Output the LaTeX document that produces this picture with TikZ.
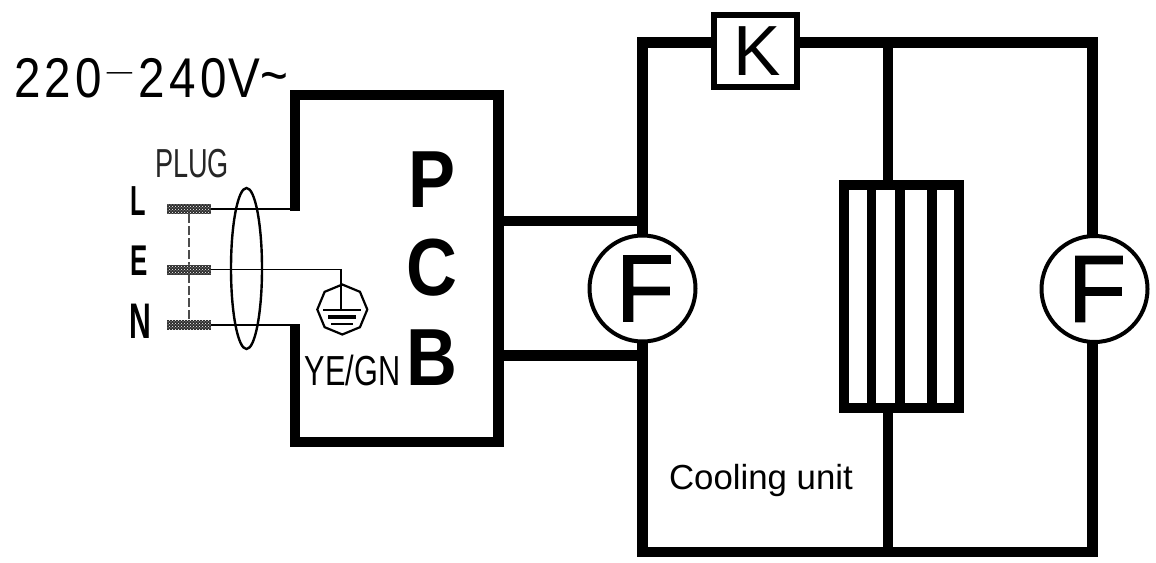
\documentclass[tikz,border=0pt]{standalone}
\usepackage{fontspec}
\setmainfont{Liberation Sans}
\newfontfamily\heavyfont[FakeBold=1.5]{Liberation Sans}
\newfontfamily\spacedfont[LetterSpace=9]{Liberation Sans}
\usetikzlibrary{shapes.geometric,patterns}
\definecolor{pin}{gray}{0.18}
\tikzset{
  thick wire/.style={line width=10.5pt,black,line cap=butt,line join=miter},
  thin wire/.style={line width=1.7pt,black},
  fan/.style={circle,draw=black,line width=4pt,fill=white,minimum size=106pt,inner sep=0pt,font=\heavyfont\fontsize{95}{95}\selectfont},
  relay/.style={rectangle,draw=black,line width=6pt,fill=white,minimum width=83pt,minimum height=72pt,inner sep=0pt,font=\fontsize{71}{71}\selectfont},
  pinbar/.style={rectangle,fill=pin,minimum width=44pt,minimum height=10pt,inner sep=0pt,postaction={pattern=crosshatch dots,pattern color=white!70}},
  pcbtext/.style={inner sep=0pt,xscale=0.87,font=\bfseries\fontsize{81}{81}\selectfont},
  narrow/.style={inner sep=0pt,xscale=0.67,anchor=base},
}
\begin{document}
\begin{tikzpicture}[x=1pt,y=-1pt]
\useasboundingbox[fill=white] (0,0) rectangle (1156,562);
% junction coordinates
\coordinate (tl) at (642.5,42.5);
\coordinate (tm) at (888,42.5);
\coordinate (tr) at (1092.5,42.5);
\coordinate (bl) at (642.5,552);
\coordinate (bm) at (888,552);
\coordinate (br) at (1092.5,552);
\coordinate (jA) at (642.5,221);
\coordinate (jB) at (642.5,355.5);
\coordinate (pA) at (498.5,221);
\coordinate (pB) at (498.5,355.5);
\coordinate (boxU) at (295,210.5);
\coordinate (boxL) at (295,324);
% cooling unit wiring
\draw[thick wire] (tl) -- (tr) -- (br) -- (bl) -- cycle;
\draw[thick wire] (tm) -- (bm);
\draw[thick wire] (pA) -- (jA);
\draw[thick wire] (pB) -- (jB);
% PCB outline
\draw[thick wire] (boxU) -- (295,95) -- (498.5,95) -- (498.5,442) -- (295,442) -- (boxL);
% components
\node[relay] (K) at (755.5,51) {\hspace*{4pt}K};
\node[fan] (F1) at (642.5,288.5) {\hspace*{5pt}F};
\node[fan] (F2) at (1094.5,289) {\hspace*{5pt}F};
\node[rectangle,draw=black,line width=10pt,fill=white,minimum width=115pt,minimum height=223pt,inner sep=0pt] (heat) at (901.5,296.5) {};
\draw[black,line width=9pt] (871.5,185) -- (871.5,408);
\draw[black,line width=10pt] (900,185) -- (900,408);
\draw[black,line width=10pt] (932,185) -- (932,408);
% plug
\node[pinbar] (pL) at (189,209) {};
\node[pinbar] (pE) at (189,269.5) {};
\node[pinbar] (pN) at (189,325) {};
\draw[black!70,line width=1.2pt,dash pattern=on 9pt off 3pt] (pL) -- (pN);
\node[pinbar] at (189,269.5) {};
\draw[thin wire] (pL.east) -- (boxU |- pL.east);
\draw[thin wire] (pN.east) -- (boxL |- pN.east);
\node[ellipse,draw=black,line width=2.4pt,minimum width=31pt,minimum height=161pt,inner sep=0pt] (clamp) at (246.5,268.5) {};
% earth
\node[regular polygon,regular polygon sides=8,shape border rotate=22.5,draw=black,line width=2.2pt,minimum size=50pt,inner sep=0pt] (earth) at (342.3,309.5) {};
\coordinate (gnd) at (340.7,310);
\draw[thin wire] (pE.east) -| (gnd);
\draw[black,line width=1.2pt] (323,310) -- (361,310);
\draw[black,line width=4pt] (328,316.5) -- (356,316.5);
\draw[black,line width=2pt] (331,323.5) -- (353,323.5);
% labels
\node[pcbtext] (P) at (432,180) {P};
\node[pcbtext] (C) at (432,268) {C};
\node[pcbtext] (B) at (432,357.5) {B};
\node[inner sep=0pt,xscale=0.85,anchor=base west,font=\spacedfont\fontsize{56}{56}\selectfont] (volt) at (14,97) {220\raisebox{.33em}{\scalebox{2.2}[0.35]{-}}\kern.04em 240\kern.03em V\raisebox{.04em}{\char"007E}};
\node[narrow,font=\fontsize{40.5}{40.5}\selectfont,text=black!85] (plug) at (192,177) {PLUG};
\node[narrow,xscale=0.9,font=\bfseries\fontsize{42}{42}\selectfont] (lL) at (138.5,215) {L};
\node[narrow,xscale=0.9,font=\bfseries\fontsize{43}{43}\selectfont] (lE) at (139.5,275) {E};
\node[narrow,xscale=0.9,font=\bfseries\fontsize{50}{50}\selectfont] (lN) at (140.5,338) {N};
\node[narrow,xscale=1.09,font=\fontsize{42}{42}\selectfont] (ye) at (352.5,385) {YE/GN};
\node[inner sep=0pt,font=\fontsize{34.8}{34.8}\selectfont] (cool) at (761,480) {Cooling unit};
\end{tikzpicture}
\end{document}
